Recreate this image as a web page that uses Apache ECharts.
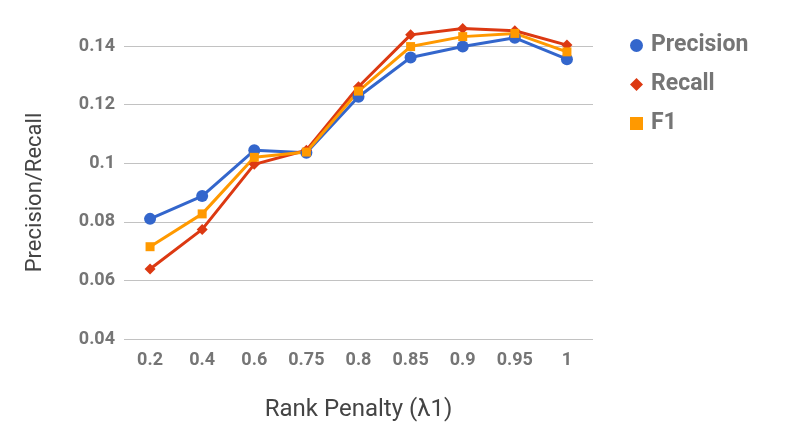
<!DOCTYPE html>
<html>
<head>
<meta charset="utf-8">
<script src="https://cdn.jsdelivr.net/npm/echarts@6/dist/echarts.min.js"></script>
<style>
  html, body { margin: 0; padding: 0; background: #fff; }
  #chart { width: 800px; height: 439px; }
</style>
</head>
<body>
<div id="chart"></div>
<script>
  // values
  var penalties = ['0.2', '0.4', '0.6', '0.75', '0.8', '0.85', '0.9', '0.95', '1'];
  var precision = [0.0810, 0.0888, 0.1044, 0.1036, 0.1227, 0.1361, 0.1398, 0.1428, 0.1355];
  var recall = [0.0639, 0.0774, 0.0996, 0.1044, 0.1261, 0.1438, 0.1460, 0.1452, 0.1403];
  var f1 = [0.0715, 0.0827, 0.1020, 0.1038, 0.1246, 0.1398, 0.1432, 0.1443, 0.1380];

  var chart = echarts.init(document.getElementById('chart'));

  function lineSeries(name, data, color, symbol, size) {
    return {
      name: name,
      type: 'line',
      data: data,
      symbol: symbol,
      symbolSize: size,
      clip: false,
      lineStyle: { color: color, width: 3 },
      itemStyle: { color: color },
      emphasis: { disabled: true }
    };
  }

  var option = {
    animation: false,
    textStyle: { fontFamily: 'Roboto' },
    grid: { left: 124, right: 207, top: 46, bottom: 100 },
    legend: {
      orient: 'vertical',
      left: 625,
      top: 29,
      itemGap: 16,
      itemWidth: 13,
      itemHeight: 13,
      textStyle: { fontSize: 23, fontWeight: 'bold', color: '#757575', lineHeight: 23, padding: [0, 0, 0, 3] },
      data: [
        { name: 'Precision', icon: 'circle' },
        { name: 'Recall', icon: 'diamond' },
        { name: 'F1', icon: 'rect' }
      ]
    },
    xAxis: {
      type: 'category',
      data: penalties,
      name: 'Rank Penalty (λ1)',
      nameLocation: 'middle',
      nameGap: 59,
      nameTextStyle: { fontSize: 24, color: '#444' },
      axisLine: { show: false },
      axisTick: { show: false },
      axisLabel: { fontSize: 18, fontWeight: 'bold', color: '#757575', margin: 12 }
    },
    yAxis: {
      type: 'value',
      min: 0.04,
      max: 0.14,
      interval: 0.02,
      name: 'Precision/Recall',
      nameLocation: 'middle',
      nameGap: 78,
      nameTextStyle: { fontSize: 22, color: '#444' },
      axisLine: { show: false },
      axisTick: { show: false },
      splitLine: { lineStyle: { color: '#c2c2c2', width: 1 } },
      axisLabel: {
        fontSize: 18, fontWeight: 'bold', color: '#757575', margin: 9,
        formatter: function (v) { return String(parseFloat(v.toFixed(2))); }
      }
    },
    series: [
      lineSeries('Precision', precision, '#3366cc', 'circle', 12),
      lineSeries('Recall', recall, '#dc3912', 'diamond', 11),
      lineSeries('F1', f1, '#ff9900', 'rect', 9)
    ]
  };

  chart.setOption(option);
</script>
</body>
</html>
